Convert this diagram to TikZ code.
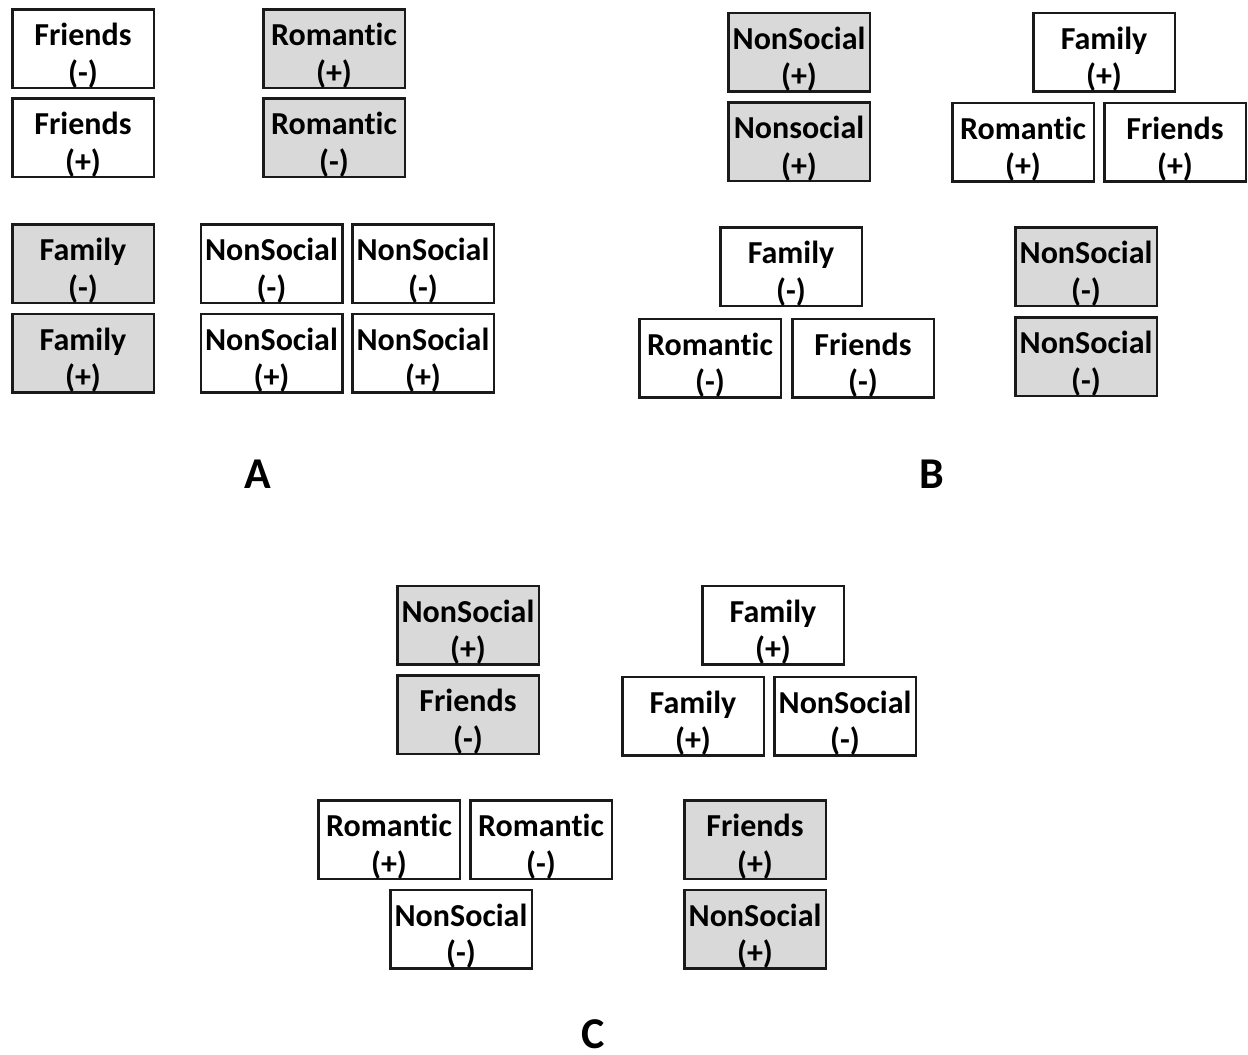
\documentclass[tikz,border=0pt]{standalone}
\usepackage{fontspec}
\setmainfont{Carlito}[Ligatures=NoCommon]
\definecolor{cardgray}{HTML}{D9D9D9}
\definecolor{cardline}{HTML}{1A1A1A}
\tikzset{
  cardw/.style={draw=cardline, line width=2.5pt, fill=white, minimum width=141.5pt, minimum height=78.5pt, inner sep=0pt},
  cardg/.style={cardw, fill=cardgray},
  cardtxt/.style={font=\fontsize{32}{38}\selectfont\bfseries, inner sep=0pt, anchor=base, text=black},
  panellabel/.style={font=\fontsize{44}{50}\selectfont\bfseries, inner sep=0pt, anchor=base, text=black}
}
\newcommand\card[6]{%
  \node[#4] (#1) at (#2,#3) {};
  \node[cardtxt] (#1t) at ([yshift=-37.5pt]#1.north) {#5};
  \node[cardtxt] (#1s) at ([yshift=-75pt]#1.north) {#6};
}
\begin{document}
\begin{tikzpicture}[x=1pt,y=-1pt]
\useasboundingbox (0,0) rectangle (1248,1055);
% Panel A
\card{a1}{83}{48.5}{cardw}{Friends}{(-)}
\card{a2}{83}{137.5}{cardw}{Friends}{(+)}
\card{a3}{334}{48.5}{cardg}{Romantic}{(+)}
\card{a4}{334}{137.5}{cardg}{Romantic}{(-)}
\card{a5}{83}{263.5}{cardg}{Family}{(-)}
\card{a6}{83}{353}{cardg}{Family}{(+)}
\card{a7}{271.5}{263.5}{cardw}{NonSocial}{(-)}
\card{a8}{423}{263.5}{cardw}{NonSocial}{(-)}
\card{a9}{271.5}{353}{cardw}{NonSocial}{(+)}
\card{a10}{423}{353}{cardw}{NonSocial}{(+)}
\node[panellabel] (la) at (258,488) {A};
% Panel B
\card{b1}{799}{52}{cardg}{NonSocial}{(+)}
\card{b2}{799}{141.5}{cardg}{Nonsocial}{(+)}
\card{b3}{1104}{52}{cardw}{Family}{(+)}
\card{b4}{1023}{142}{cardw}{Romantic}{(+)}
\card{b5}{1175}{142}{cardw}{Friends}{(+)}
\card{b6}{791}{266.5}{cardw}{Family}{(-)}
\card{b7}{710}{358}{cardw}{Romantic}{(-)}
\card{b8}{863}{358}{cardw}{Friends}{(-)}
\card{b9}{1086}{266.5}{cardg}{NonSocial}{(-)}
\card{b10}{1086}{356.5}{cardg}{NonSocial}{(-)}
\node[panellabel] (lb) at (932,488) {B};
% Panel C
\card{c1}{468}{625}{cardg}{NonSocial}{(+)}
\card{c2}{468}{714.5}{cardg}{Friends}{(-)}
\card{c3}{773}{625}{cardw}{Family}{(+)}
\card{c4}{693}{716}{cardw}{Family}{(+)}
\card{c5}{845}{716}{cardw}{NonSocial}{(-)}
\card{c6}{389}{839.5}{cardw}{Romantic}{(+)}
\card{c7}{541}{839.5}{cardw}{Romantic}{(-)}
\card{c8}{461}{929}{cardw}{NonSocial}{(-)}
\card{c9}{755}{839.5}{cardg}{Friends}{(+)}
\card{c10}{755}{929}{cardg}{NonSocial}{(+)}
\node[panellabel] (lc) at (593,1048) {C};
\end{tikzpicture}
\end{document}
